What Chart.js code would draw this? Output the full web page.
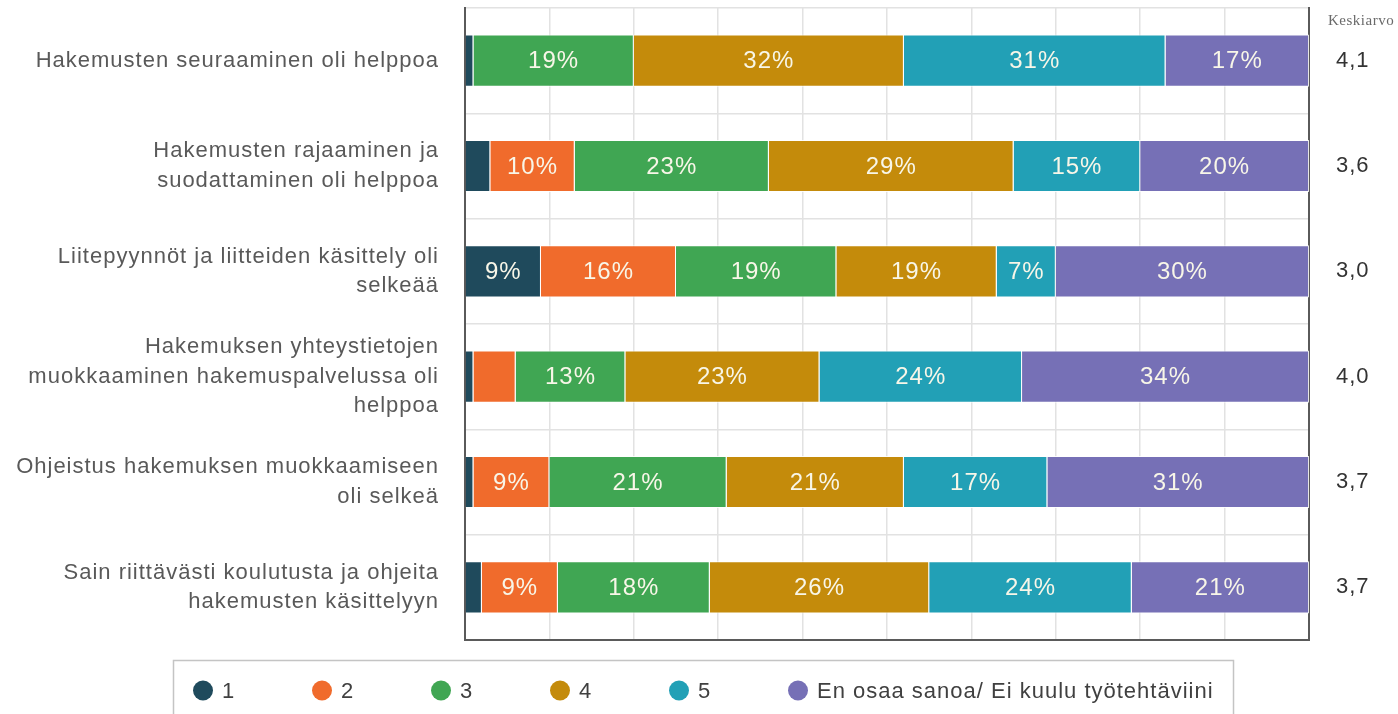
<!DOCTYPE html>
<html>
<head>
<meta charset="utf-8">
<script src="https://cdn.jsdelivr.net/npm/chart.js@4"></script>
<style>
  html, body { margin: 0; padding: 0; background: #fff; }
  #chart { display: block; }
</style>
</head>
<body>
<canvas id="chart" width="1398" height="714"></canvas>
<script>
(function () {
  'use strict';

  const questions = [
    ['Hakemusten seuraaminen oli helppoa'],
    ['Hakemusten rajaaminen ja', 'suodattaminen oli helppoa'],
    ['Liitepyynnöt ja liitteiden käsittely oli', 'selkeää'],
    ['Hakemuksen yhteystietojen', 'muokkaaminen hakemuspalvelussa oli', 'helppoa'],
    ['Ohjeistus hakemuksen muokkaamiseen', 'oli selkeä'],
    ['Sain riittävästi koulutusta ja ohjeita', 'hakemusten käsittelyyn']
  ];
  const averages = ['4,1', '3,6', '3,0', '4,0', '3,7', '3,7'];
  const averageTitle = 'Keskiarvo';

  const answerLabels = ['1', '2', '3', '4', '5', 'En osaa sanoa/ Ei kuulu työtehtäviini'];
  const answer1 = [1, 3, 9, 1, 1, 2];
  const answer2 = [0, 10, 16, 5, 9, 9];
  const answer3 = [19, 23, 19, 13, 21, 18];
  const answer4 = [32, 29, 19, 23, 21, 26];
  const answer5 = [31, 15, 7, 24, 17, 24];
  const answerNA = [17, 20, 30, 34, 31, 21];
  const colors = ['#1f4a5c', '#f06b2c', '#40a653', '#c48b0b', '#22a0b6', '#7670b6'];

  const series = [answer1, answer2, answer3, answer4, answer5, answerNA];
  const FONT = '"Liberation Sans", Arial, sans-serif';
  const SPACING = '1px';

  // image text is a bit wide, so add some letter spacing everywhere
  const spacingPlugin = {
    id: 'spacing',
    beforeUpdate(chart) { chart.ctx.letterSpacing = SPACING; },
    beforeDraw(chart) { chart.ctx.letterSpacing = SPACING; }
  };

  // y axes should not push the plot area down
  function noVertPadding(scale) {
    scale.paddingTop = 0;
    scale.paddingBottom = 0;
  }

  const valueLabels = {
    id: 'valueLabels',
    afterDatasetsDraw(chart) {
      const ctx = chart.ctx;
      ctx.save();
      ctx.font = '24px ' + FONT;
      ctx.fillStyle = '#f8f6e8';
      ctx.textAlign = 'center';
      ctx.textBaseline = 'middle';
      chart.data.datasets.forEach((ds, i) => {
        const meta = chart.getDatasetMeta(i);
        meta.data.forEach((bar, j) => {
          const v = ds.data[j];
          if (v < 7) return;
          ctx.fillText(v + '%', (bar.x + bar.base) / 2, bar.y + 1);
        });
      });
      ctx.restore();
    }
  };

  const extras = {
    id: 'extras',
    afterDraw(chart) {
      const ctx = chart.ctx;
      const area = chart.chartArea;
      ctx.save();

      // column title above averages
      ctx.font = '15px "Liberation Serif", "Times New Roman", serif';
      ctx.letterSpacing = '0.5px';
      ctx.fillStyle = '#6a6a6a';
      ctx.textAlign = 'left';
      ctx.textBaseline = 'middle';
      ctx.fillText(averageTitle, area.right + 19, 21);

      // legend box
      const boxTop = area.bottom + 20.5;
      ctx.strokeStyle = '#c4c4c4';
      ctx.lineWidth = 1.5;
      ctx.strokeRect(173.5, boxTop, 1060, 120);

      ctx.font = '22px ' + FONT;
      ctx.letterSpacing = SPACING;
      ctx.textBaseline = 'middle';
      const cy = boxTop + 30;
      answerLabels.forEach((lab, i) => {
        const cx = 203 + i * 119;
        ctx.beginPath();
        ctx.arc(cx, cy, 10, 0, Math.PI * 2);
        ctx.fillStyle = colors[i];
        ctx.fill();
        ctx.fillStyle = '#404040';
        ctx.fillText(lab, cx + 19, cy + 1);
      });
      ctx.restore();
    }
  };

  const datasets = series.map((data, i) => ({
    label: answerLabels[i],
    data,
    backgroundColor: colors[i],
    borderColor: 'rgba(255,255,255,0.85)',
    borderWidth: { left: 1, right: 1, top: 1, bottom: 1 },
    barPercentage: 0.495,
    categoryPercentage: 1
  }));

  new Chart(document.getElementById('chart'), {
    type: 'bar',
    data: { labels: questions, datasets },
    plugins: [spacingPlugin, valueLabels, extras],
    options: {
      indexAxis: 'y',
      responsive: false,
      animation: false,
      layout: { padding: { top: 8, bottom: 74, left: 0, right: 0 } },
      plugins: { legend: { display: false }, tooltip: { enabled: false } },
      scales: {
        x: {
          stacked: true,
          min: 0,
          max: 100,
          ticks: { display: false, stepSize: 10 },
          grid: { color: '#e2e2e2', lineWidth: 1.5, drawTicks: false },
          border: { color: '#5a5a5a', width: 2 },
          afterFit(scale) { scale.height = 0; }
        },
        y: {
          stacked: true,
          grid: { color: '#e2e2e2', lineWidth: 1.5, drawTicks: false, offset: true },
          border: { color: '#5a5a5a', width: 2 },
          ticks: {
            color: '#595959',
            padding: 26,
            font: { family: FONT, size: 22, lineHeight: 1.34 }
          },
          afterFit(scale) { scale.width = 465; noVertPadding(scale); }
        },
        y2: {
          type: 'category',
          labels: averages,
          position: 'right',
          offset: true,
          grid: { display: false, drawTicks: false },
          border: { display: true, color: '#5a5a5a', width: 2 },
          ticks: {
            color: '#333333',
            padding: 27,
            font: { family: FONT, size: 22 }
          },
          afterFit(scale) { scale.width = 89; noVertPadding(scale); }
        }
      }
    }
  });
})();
</script>
</body>
</html>
